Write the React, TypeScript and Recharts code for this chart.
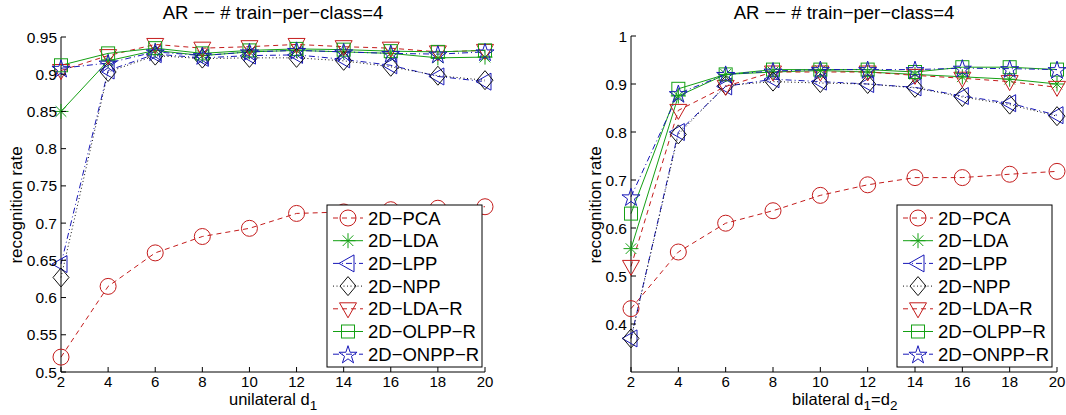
import React from 'react';
import { LineChart, Line, XAxis, YAxis } from 'recharts';

// ---------- data ----------
const X_VALUES = [2, 4, 6, 8, 10, 12, 14, 16, 18, 20];

// unilateral d1 (left panel)
const PCA_U = [0.52, 0.615, 0.66, 0.682, 0.693, 0.713, 0.715, 0.718, 0.72, 0.722];
const LDA_U = [0.85, 0.918, 0.932, 0.925, 0.93, 0.932, 0.93, 0.928, 0.922, 0.923];
const LPP_U = [0.645, 0.905, 0.927, 0.922, 0.925, 0.926, 0.92, 0.912, 0.897, 0.89];
const NPP_U = [0.627, 0.903, 0.925, 0.921, 0.922, 0.922, 0.918, 0.91, 0.898, 0.892];
const LDAR_U = [0.905, 0.925, 0.94, 0.935, 0.937, 0.94, 0.937, 0.935, 0.93, 0.932];
const OLPPR_U = [0.912, 0.928, 0.935, 0.928, 0.932, 0.934, 0.933, 0.931, 0.93, 0.932];
const ONPPR_U = [0.908, 0.915, 0.93, 0.925, 0.93, 0.932, 0.93, 0.928, 0.927, 0.93];

// bilateral d1=d2 (right panel)
const PCA_B = [0.432, 0.55, 0.61, 0.636, 0.668, 0.69, 0.705, 0.705, 0.712, 0.718];
const LDA_B = [0.557, 0.875, 0.92, 0.925, 0.928, 0.925, 0.92, 0.915, 0.91, 0.9];
const LPP_B = [0.37, 0.8, 0.895, 0.91, 0.905, 0.9, 0.893, 0.875, 0.86, 0.835];
const NPP_B = [0.37, 0.795, 0.897, 0.905, 0.902, 0.9, 0.892, 0.873, 0.857, 0.833];
const LDAR_B = [0.52, 0.845, 0.895, 0.925, 0.925, 0.925, 0.918, 0.912, 0.905, 0.893];
const OLPPR_B = [0.63, 0.89, 0.92, 0.93, 0.93, 0.93, 0.925, 0.935, 0.935, 0.93];
const ONPPR_B = [0.665, 0.88, 0.92, 0.927, 0.93, 0.93, 0.93, 0.933, 0.932, 0.93];

const X_TICKS = [2, 4, 6, 8, 10, 12, 14, 16, 18, 20];
const Y_TICKS_U = [0.5, 0.55, 0.6, 0.65, 0.7, 0.75, 0.8, 0.85, 0.9, 0.95];
const Y_TICKS_B = [0.4, 0.5, 0.6, 0.7, 0.8, 0.9, 1];

const TITLE = 'AR \u2212\u2212 # train\u2212per\u2212class=4';
const Y_LABEL = 'recognition rate';

// ---------- styles ----------
const RED = '#c41c1c';
const GREEN = '#14a014';
const BLUE = '#1818b8';
const BLACK = '#111111';
const FONT = '"Liberation Sans", Arial, Helvetica, sans-serif';

type MarkerType = 'circle' | 'asterisk' | 'ltri' | 'diamond' | 'dtri' | 'square' | 'star';

const SERIES: { key: string; name: string; color: string; dash?: string; marker: MarkerType }[] = [
  { key: 'pca', name: '2D\u2212PCA', color: RED, dash: '5 4', marker: 'circle' },
  { key: 'lda', name: '2D\u2212LDA', color: GREEN, marker: 'asterisk' },
  { key: 'lpp', name: '2D\u2212LPP', color: BLUE, dash: '6 3 1 3', marker: 'ltri' },
  { key: 'npp', name: '2D\u2212NPP', color: BLACK, dash: '1 2.5', marker: 'diamond' },
  { key: 'ldar', name: '2D\u2212LDA\u2212R', color: RED, dash: '5 4', marker: 'dtri' },
  { key: 'olppr', name: '2D\u2212OLPP\u2212R', color: GREEN, marker: 'square' },
  { key: 'onppr', name: '2D\u2212ONPP\u2212R', color: BLUE, dash: '6 3 1 3', marker: 'star' },
];

const buildRows = (arrs: number[][]) =>
  X_VALUES.map((x, i) => {
    const row: Record<string, number> = { x };
    SERIES.forEach((s, j) => {
      row[s.key] = arrs[j][i];
    });
    return row;
  });

const ROWS_U = buildRows([PCA_U, LDA_U, LPP_U, NPP_U, LDAR_U, OLPPR_U, ONPPR_U]);
const ROWS_B = buildRows([PCA_B, LDA_B, LPP_B, NPP_B, LDAR_B, OLPPR_B, ONPPR_B]);

function renderMarker(type: MarkerType, cx: number, cy: number, color: string, key: string) {
  const common = { fill: 'none', stroke: color, strokeWidth: 1 };
  switch (type) {
    case 'circle':
      return <circle key={key} cx={cx} cy={cy} r={8} {...common} />;
    case 'asterisk': {
      const r = 7.5;
      const d = r * 0.7071;
      return (
        <g key={key} {...common}>
          <line x1={cx - r} y1={cy} x2={cx + r} y2={cy} />
          <line x1={cx} y1={cy - r} x2={cx} y2={cy + r} />
          <line x1={cx - d} y1={cy - d} x2={cx + d} y2={cy + d} />
          <line x1={cx - d} y1={cy + d} x2={cx + d} y2={cy - d} />
        </g>
      );
    }
    case 'ltri':
      return <polygon key={key} points={`${cx - 9},${cy} ${cx + 6},${cy - 8.5} ${cx + 6},${cy + 8.5}`} {...common} />;
    case 'diamond':
      return <polygon key={key} points={`${cx},${cy - 9.5} ${cx + 8},${cy} ${cx},${cy + 9.5} ${cx - 8},${cy}`} {...common} />;
    case 'dtri':
      return <polygon key={key} points={`${cx - 8.5},${cy - 6} ${cx + 8.5},${cy - 6} ${cx},${cy + 9}`} {...common} />;
    case 'square':
      return <rect key={key} x={cx - 6.5} y={cy - 6.5} width={13} height={13} {...common} />;
    case 'star': {
      const R = 9.5;
      const r = R * 0.382;
      const pts: string[] = [];
      for (let i = 0; i < 10; i++) {
        const rad = i % 2 === 0 ? R : r;
        const a = -Math.PI / 2 + (i * Math.PI) / 5;
        pts.push(`${(cx + rad * Math.cos(a)).toFixed(2)},${(cy + 1 + rad * Math.sin(a)).toFixed(2)}`);
      }
      return <polygon key={key} points={pts.join(' ')} {...common} />;
    }
  }
  return null;
}

const fmt = (v: number) => String(Number(v.toFixed(2)));

const YTick = (props: any) => {
  const { x, y, payload } = props;
  return (
    <g>
      <line x1={x} x2={x + 5} y1={y} y2={y} stroke="#000" strokeWidth={1} />
      <text x={x - 4} y={y + 5.5} textAnchor="end" fontSize={15.5} fontFamily={FONT} fill="#000">
        {fmt(payload.value)}
      </text>
    </g>
  );
};

const XTick = (props: any) => {
  const { x, y, payload } = props;
  return (
    <g>
      <line x1={x} x2={x} y1={y} y2={y - 5} stroke="#000" strokeWidth={1} />
      <text x={x} y={y + 15} textAnchor="middle" fontSize={15} fontFamily={FONT} fill="#000">
        {payload.value}
      </text>
    </g>
  );
};

function Panel(props: {
  rows: Record<string, number>[];
  width: number;
  left: number;
  top: number;
  right: number;
  bottom: number;
  yDomain: [number, number];
  yTicks: number[];
}) {
  const { rows, width, left, top, right, bottom, yDomain, yTicks } = props;
  return (
    <LineChart width={width} height={415} data={rows} margin={{ top, right, bottom: 0, left: 0 }}>
      <XAxis
        dataKey="x"
        type="number"
        domain={[2, 20]}
        ticks={X_TICKS}
        height={bottom}
        tickSize={0}
        tickMargin={0}
        tickLine={false}
        axisLine={{ stroke: '#000', strokeWidth: 1 }}
        tick={<XTick />}
        interval={0}
      />
      <YAxis
        type="number"
        domain={yDomain}
        ticks={yTicks}
        width={left}
        tickSize={0}
        tickMargin={0}
        tickLine={false}
        axisLine={{ stroke: '#000', strokeWidth: 1 }}
        tick={<YTick />}
        interval={0}
        allowDataOverflow
      />
      {SERIES.map((s) => (
        <Line
          key={s.key}
          dataKey={s.key}
          name={s.name}
          stroke={s.color}
          strokeWidth={1}
          strokeDasharray={s.dash}
          isAnimationActive={false}
          activeDot={false}
          dot={(p: any) => renderMarker(s.marker, p.cx, p.cy, s.color, `${s.key}-${p.index}`)}
        />
      ))}
    </LineChart>
  );
}

function LegendBox(props: { x: number; y: number }) {
  const { x, y } = props;
  const w = 155;
  const h = 162;
  const rowH = 22.7;
  return (
    <g>
      <rect x={x} y={y} width={w} height={h} fill="#fff" stroke="#000" strokeWidth={1} />
      {SERIES.map((s, i) => {
        const cy = y + 13 + i * rowH;
        return (
          <g key={s.key}>
            <line x1={x + 6} x2={x + 36} y1={cy} y2={cy} stroke={s.color} strokeWidth={1} strokeDasharray={s.dash} />
            {renderMarker(s.marker, x + 21, cy, s.color, `lg-${s.key}`)}
            <text x={x + 41} y={cy + 6.5} fontSize={18.5} fontFamily={FONT} fill="#000">
              {s.name}
            </text>
          </g>
        );
      })}
    </g>
  );
}

export default function App() {
  return (
    <div style={{ position: 'absolute', left: 0, top: 0, width: 1066, height: 415, background: '#fff', overflow: 'hidden' }}>
      <div style={{ position: 'absolute', left: 0, top: 0 }}>
        <Panel rows={ROWS_U} width={530} left={61} top={37} right={45} bottom={43} yDomain={[0.5, 0.95]} yTicks={Y_TICKS_U} />
      </div>
      <div style={{ position: 'absolute', left: 570, top: 0 }}>
        <Panel rows={ROWS_B} width={496} left={61} top={36} right={9} bottom={43} yDomain={[0.3, 1]} yTicks={Y_TICKS_B} />
      </div>
      <svg width={1066} height={415} style={{ position: 'absolute', left: 0, top: 0, pointerEvents: 'none' }}>
        <text x={273} y={19} textAnchor="middle" fontSize={18.5} fontFamily={FONT} fill="#000">{TITLE}</text>
        <text x={844} y={19} textAnchor="middle" fontSize={18.5} fontFamily={FONT} fill="#000">{TITLE}</text>
        <text transform="translate(22,205) rotate(-90)" textAnchor="middle" fontSize={17} fontFamily={FONT} fill="#000">{Y_LABEL}</text>
        <text transform="translate(601,205) rotate(-90)" textAnchor="middle" fontSize={17} fontFamily={FONT} fill="#000">{Y_LABEL}</text>
        <text x={229} y={405} fontSize={16.5} fontFamily={FONT} fill="#000">
          unilateral d<tspan dy={5} fontSize={13.5}>1</tspan>
        </text>
        <text x={792} y={405} fontSize={16.5} fontFamily={FONT} fill="#000">
          bilateral d<tspan dy={5} fontSize={13.5}>1</tspan><tspan dy={-5}>=d</tspan><tspan dy={5} fontSize={13.5}>2</tspan>
        </text>
        <LegendBox x={327} y={205} />
        <LegendBox x={897} y={205} />
      </svg>
    </div>
  );
}
